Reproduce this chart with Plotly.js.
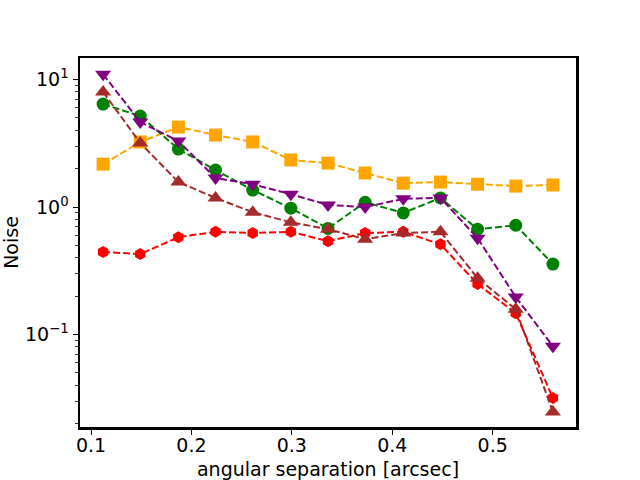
<!DOCTYPE html>
<html>
<head>
<meta charset="utf-8">
<script src="https://cdn.plot.ly/plotly-3.0.1.min.js"></script>
<style>
  html, body { margin: 0; padding: 0; background: #fff; }
  #canvas { width: 640px; height: 480px; }
</style>
</head>
<body>
<div id="canvas"></div>
<script>
// separations [arcsec]
const sep = [0.112, 0.149, 0.187, 0.224, 0.261, 0.299, 0.336, 0.373, 0.411, 0.448, 0.485, 0.523, 0.560];

// noise curves
const noiseOrange = [2.17, 3.24, 4.24, 3.67, 3.24, 2.34, 2.21, 1.85, 1.54, 1.57, 1.51, 1.46, 1.49];
const noiseRed = [0.444, 0.428, 0.58, 0.64, 0.625, 0.64, 0.54, 0.625, 0.64, 0.51, 0.249, 0.147, 0.0318];
const noiseGreen = [6.42, 5.17, 2.85, 1.95, 1.36, 0.98, 0.68, 1.09, 0.90, 1.18, 0.67, 0.72, 0.357];
const noiseBrown = [7.98, 3.18, 1.57, 1.18, 0.91, 0.76, 0.67, 0.56, 0.625, 0.64, 0.277, 0.158, 0.0247];
const noisePurple = [11.0, 4.64, 3.29, 1.69, 1.51, 1.26, 1.04, 1.0, 1.16, 1.18, 0.57, 0.197, 0.081];

// tick labels
const yTickVals = [0.1, 1, 10];
const yTickText = ["10<sup>\u22121</sup>", "10<sup>0</sup>", "10<sup>1</sup>"];
const xTickVals = [0.1, 0.2, 0.3, 0.4, 0.5];
const xTickText = ["0.1", "0.2", "0.3", "0.4", "0.5"];

// minor ticks for the log axis
let yMinor = [];
for (let d = -2; d <= 1; d++) {
    for (let k = 2; k <= 9; k++) {
        yMinor.push(k * Math.pow(10, d));
    }
}

function series(y, color, symbol, size) {
    return {
        x: sep,
        y: y,
        mode: "lines+markers",
        line: { color: color, width: 2, dash: "7px,3px" },
        marker: { color: color, symbol: symbol, size: size, line: { width: 0 } },
        showlegend: false,
        hoverinfo: "skip",
    };
}

var getPlotData = () => [
    series(noiseOrange, "#FFA500", "square", 13),
    series(noiseRed, "#FF0000", "hexagon", 12),
    series(noiseGreen, "#008000", "circle", 13),
    series(noiseBrown, "#A52A2A", "triangle-up", 14),
    series(noisePurple, "#800080", "triangle-down", 14),
];

const axisFont = { family: "DejaVu Sans", size: 19, color: "#000" };

var getPlotLayout = () => ({
    width: 640,
    height: 480,
    margin: { l: 80, r: 64, t: 58, b: 53 },
    paper_bgcolor: "#fff",
    plot_bgcolor: "#fff",
    font: axisFont,
    xaxis: {
        range: [0.089, 0.583],
        tickmode: "array",
        tickvals: xTickVals,
        ticktext: xTickText,
        ticks: "outside",
        ticklen: 5,
        tickwidth: 1,
        tickcolor: "#000",
        ticklabelstandoff: -5,
        showgrid: false,
        zeroline: false,
        showline: true,
        mirror: true,
        linecolor: "#000",
        linewidth: 2.5,
        tickfont: axisFont,
        title: { text: "angular separation [arcsec]", font: axisFont, standoff: 10 },
    },
    yaxis: {
        type: "log",
        range: [-1.725, 1.169],
        tickmode: "array",
        tickvals: yTickVals,
        ticktext: yTickText,
        ticks: "outside",
        ticklen: 5,
        tickwidth: 1,
        tickcolor: "#000",
        minor: { tickmode: "array", tickvals: yMinor, ticks: "outside", ticklen: 3, tickwidth: 0.8, tickcolor: "#000", showgrid: false },
        showgrid: false,
        zeroline: false,
        showline: true,
        mirror: true,
        linecolor: "#000",
        linewidth: 2.5,
        tickfont: axisFont,
        title: { text: "Noise", font: axisFont, standoff: 6 },
    },
});

Plotly.newPlot("canvas", getPlotData(), getPlotLayout(), { displayModeBar: false, staticPlot: true });
</script>
</body>
</html>
